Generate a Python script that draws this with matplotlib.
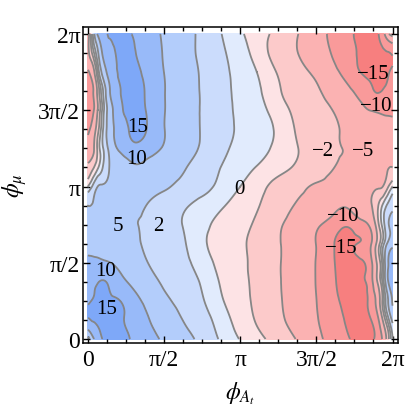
import numpy as np
import matplotlib
matplotlib.use("Agg")
import matplotlib.pyplot as plt
import matplotlib.tri as mtri

# --------------------------
# Data
# --------------------------

# grid columns (phi_At, rad) and rows (phi_mu, rad, step pi/8)
phi_at = [0, 0.1, 0.2, 0.3, 0.45, 0.65, 0.9, 1.2, 1.6, 2.0, 2.4, 2.8, 3.1416,
          3.4832, 3.8832, 4.2832, 4.6832, 5.0832, 5.3832, 5.6332, 5.8332,
          5.9832, 6.0832, 6.1832, 6.2832]
phi_mu = [0, 0.3927, 0.7854, 1.1781, 1.5708, 1.9635, 2.3562, 2.7489, 3.1416,
          3.5343, 3.9270, 4.3197, 4.7124, 5.1051, 5.4978, 5.8905, 6.2832]

# asymmetry value at each (phi_mu row, phi_At column)
asym = [
    [3, 8.9, 12.5, 15.1, 16.3, 16.4, 14.7, 12.2, 9.1, 6.3, 3.7, 1.4, -0.1, -1.3, -2.9, -5.0, -8.5, -12.1, -14.8, -16.7, -15.8, -13.1, -9.2, -3.3, 2],
    [14.5, 15.3, 15.7, 16.1, 16.3, 15.5, 13.9, 10.7, 7.5, 4.7, 2.8, 0.7, -0.8, -2.2, -4.0, -6.4, -9.4, -13.1, -15.6, -16.1, -15.1, -10.8, -4.8, 0.6, 6],
    [14.5, 15.2, 15.5, 15.8, 15.7, 15.1, 12.3, 9.0, 5.7, 3.7, 2.0, 0, -1.2, -2.5, -4.3, -6.8, -9.7, -13.9, -16.0, -15.8, -13.6, -7.3, -1.4, 4.5, 10.5],
    [13.3, 14.2, 14.8, 15.3, 14.0, 11.6, 9.2, 6.8, 4.4, 3.1, 1.5, -0.4, -1.4, -2.6, -4.4, -6.9, -9.9, -14.6, -16.2, -15.6, -12.0, -4.4, 0.7, 9.1, 12],
    [10.8, 10.9, 10.9, 10.6, 10.1, 8.9, 7.2, 5.2, 3.8, 2.5, 0.8, -0.7, -1.5, -2.7, -4.4, -7.0, -9.9, -14.9, -16.2, -15.4, -11.5, -3.9, 1.2, 9.3, 12],
    [8.8, 8.5, 8.1, 7.8, 7.2, 6.5, 5.7, 4.6, 3.4, 2.1, 0.2, -0.8, -1.6, -2.7, -4.4, -7.0, -9.8, -15.0, -15.9, -14.7, -10.6, -3.4, 0.9, 5.6, 8],
    [6.9, 6.7, 6.5, 6.3, 6.0, 5.7, 5.3, 4.5, 3.1, 1.8, 0.4, -0.7, -1.4, -2.4, -4.3, -6.6, -9.3, -12.4, -14.2, -11.7, -8.7, -2.7, 0.8, 4.4, 6],
    [5, 5.1, 5.3, 5.4, 5.7, 5.9, 6.3, 5.0, 3.6, 2.3, 1.2, 0.1, -0.9, -1.8, -3.4, -5.2, -7.0, -8.8, -9.3, -7.1, -5.4, -2.2, 0.3, 2.4, 4],
    [0, 2.5, 5, 5.4, 6.1, 6.9, 8, 6.9, 5.3, 3.9, 2.6, 1.2, 0, -1.2, -2.6, -3.9, -5.3, -6.9, -8, -6.9, -6.1, -5.4, -5, -2.5, 0],
    [-4, -2.4, -0.3, 1.9, 5.2, 7.0, 9.2, 8.8, 7.0, 5.2, 3.4, 1.8, 0.9, -0.1, -1.2, -2.3, -3.6, -5.0, -6.3, -5.9, -5.7, -5.4, -5.3, -5.1, -5],
    [-8, -6, -1.5, 1.6, 6.3, 10.8, 13.6, 12.6, 9.3, 6.6, 4.3, 2.4, 1.4, 0.7, -0.4, -1.8, -3.1, -4.5, -5.3, -5.7, -6.0, -6.3, -6.5, -6.7, -6.9],
    [-11, -8, -3, 1.5, 7.4, 12.4, 15.6, 15.1, 9.8, 7.0, 4.4, 2.7, 1.6, 0.8, -0.2, -2.1, -3.4, -4.6, -5.7, -6.5, -7.2, -7.8, -8.1, -8.5, -8.8],
    [-12, -11, -5, 0.5, 7.5, 13.8, 16.3, 14.9, 9.9, 7.0, 4.4, 2.7, 1.5, 0.7, -0.8, -2.5, -3.8, -5.2, -7.2, -8.9, -10.1, -10.6, -10.9, -10.9, -10.8],
    [-12, -10.5, -4, 1.5, 9.8, 14.8, 16.4, 14.6, 9.9, 6.9, 4.4, 2.6, 1.4, 0.4, -1.5, -3.1, -4.4, -6.8, -9.2, -11.6, -14.0, -15.3, -14.8, -14.2, -13.3],
    [-10.5, -7, 0, 6.2, 12.1, 15.4, 16.1, 13.9, 9.7, 6.8, 4.3, 2.5, 1.2, 0, -2.0, -3.7, -5.7, -9.0, -12.3, -15.1, -15.7, -15.8, -15.5, -15.2, -14.5],
    [-6, -1.2, 4.2, 10.4, 13.8, 15.8, 15.7, 13.1, 9.4, 6.4, 4.0, 2.2, 0.8, -0.7, -2.8, -4.7, -7.5, -10.7, -13.9, -15.5, -16.3, -16.1, -15.7, -15.3, -14.5],
    [-7, 2, 10.7, 13.1, 15.5, 17, 15, 12.4, 9.2, 6.4, 3.9, 1.8, 0.3, -1.0, -2.5, -4.6, -7.8, -11.4, -14.1, -16.1, -16.4, -15.3, -12.1, -6.1, -3],
]

levels = [-15, -10, -5, -2, 0, 2, 5, 10, 15]
band_colors = ["#f77f7f", "#f99a9a", "#fbb2b2", "#fccaca", "#fde3e5",
               "#e1ebfd", "#cbdcfc", "#b3cdfb", "#98baf9", "#7ea8f8"]

# contour labels: text, phi_At, phi_mu
lab_text = ["15", "10", "5", "2", "10", "15", "0", "\u22122", "\u22125",
            "\u221215", "\u221210", "\u221210", "\u221215"]
lab_x = [1.03, 1.00, 0.61, 1.45, 0.37, 0.39, 3.13, 4.85, 5.67, 5.88, 5.95, 5.26, 5.23]
lab_y = [4.37, 3.71, 2.33, 2.33, 1.41, 0.63, 3.10, 3.88, 3.88, 5.46, 4.82, 2.54, 1.89]

# --------------------------
# Plot
# --------------------------

plt.rcParams["mathtext.fontset"] = "stix"
serif = "Liberation Serif"

fig = plt.figure(figsize=(4.05, 4.10), dpi=100)
ax = fig.add_axes([83 / 405, 66 / 410, 315 / 405, 316 / 410])

gx, gy = np.meshgrid(phi_at, phi_mu)
z = np.array(asym, dtype=float)
tri = mtri.Triangulation(gx.ravel(), gy.ravel())
interp = mtri.CubicTriInterpolator(tri, z.ravel(), kind="min_E")
refiner = mtri.UniformTriRefiner(tri)
tri_f, z_f = refiner.refine_field(z.ravel(), triinterpolator=interp, subdiv=4)

ax.tricontourf(tri_f, z_f, levels=[-100] + levels + [100], colors=band_colors)
ax.tricontour(tri_f, z_f, levels=levels, colors="#868686", linewidths=1.3,
              linestyles="solid")

for t, x, y in zip(lab_text, lab_x, lab_y):
    ax.text(x, y, t, ha="center", va="center", fontsize=15, family=serif)

ax.set_xlim(-0.103, 2 * np.pi + 0.113)
ax.set_ylim(-0.082, 2 * np.pi + 0.144)

ticks = [0, np.pi / 2, np.pi, 3 * np.pi / 2, 2 * np.pi]
tick_labels = ["0", "\u03c0/2", "\u03c0", "3\u03c0/2", "2\u03c0"]
ax.set_xticks(ticks)
ax.set_xticklabels(tick_labels, family=serif, fontsize=17)
ax.set_yticks(ticks)
ax.set_yticklabels(tick_labels, family=serif, fontsize=17)
ax.set_xticks(np.arange(17) * np.pi / 8, minor=True)
ax.set_yticks(np.arange(17) * np.pi / 8, minor=True)
ax.tick_params(which="both", direction="in", top=True, right=True, width=1.0)
ax.tick_params(which="major", length=5, pad=4)
ax.tick_params(which="minor", length=3)
ax.tick_params(axis="y", which="major", pad=2)
for s in ax.spines.values():
    s.set_linewidth(1.1)

ax.set_xlabel(r"$\phi_{A_t}$", fontsize=17, labelpad=7)
ax.set_ylabel(r"$\phi_{\mu}$", fontsize=17, labelpad=7)

fig.savefig("out.png", dpi=100)
